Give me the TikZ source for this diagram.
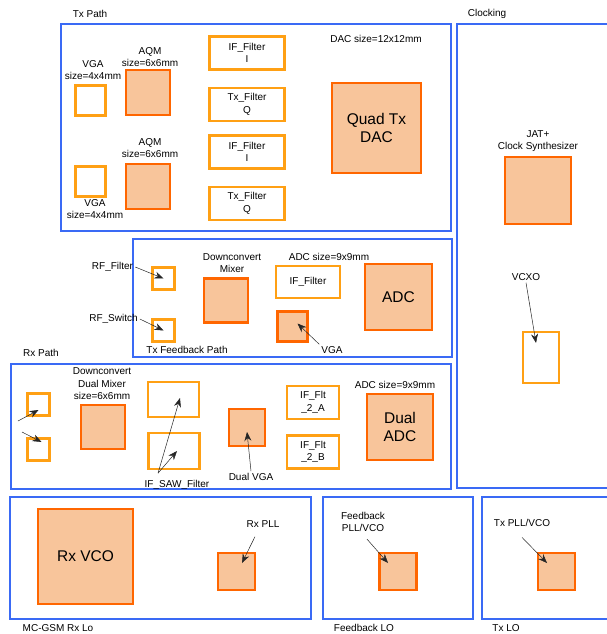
\documentclass[tikz,border=0pt]{standalone}
\usepackage{fontspec}
\setmainfont{Liberation Sans}
\usepackage{tikz}
\usetikzlibrary{arrows.meta, positioning}

\definecolor{frameblue}{RGB}{58,106,245}
\definecolor{chipline}{RGB}{255,102,0}
\definecolor{chipfill}{RGB}{248,197,155}
\definecolor{partline}{RGB}{255,160,20}

\begin{document}
\begin{tikzpicture}[
    x=1pt, y=-1pt,
    font=\fontsize{10}{12.5}\selectfont,
    frame/.style={draw=frameblue, line width=2.6pt, inner sep=0pt},
    chip/.style={draw=chipline, fill=chipfill, line width=2.2pt, inner sep=0pt, align=center},
    part/.style={draw=partline, fill=white, line width=2.2pt, inner sep=0pt, align=center},
    big/.style={font=\fontsize{15.5}{18}\selectfont},
    lbl/.style={align=center, inner sep=2pt},
    ar/.style={-{Stealth[length=9pt, width=7pt]}, line width=0.5pt, draw=black!85}
]
\useasboundingbox (0,0) rectangle (607,634);

% frames
\node[frame, minimum width=390, minimum height=207] (txframe) at (256,127.5) {};
\node[frame, minimum width=155, minimum height=464] (clkframe) at (534.5,256) {};
\node[frame, minimum width=319, minimum height=118] (fbframe) at (292.5,298) {};
\node[frame, minimum width=440, minimum height=125] (rxframe) at (231,426.5) {};
\node[frame, minimum width=301, minimum height=122] (mcframe) at (160.5,558) {};
\node[frame, minimum width=150, minimum height=122] (fbloframe) at (398,558) {};
\node[frame, minimum width=130, minimum height=122] (txloframe) at (547,558) {};

\node[lbl] (txpathl) at (90,14) {Tx Path};
\node[lbl] (clkl) at (487,14) {Clocking};
\node[lbl] (rxpathl) at (41,353) {Rx Path};
\node[lbl] (fbpathl) at (187,350) {Tx Feedback Path};
\node[lbl] (mcl) at (58,628) {MC-GSM Rx Lo};
\node[lbl] (fblol) at (364,628) {Feedback LO};
\node[lbl] (txlol) at (506,628) {Tx LO};

% Tx path
\node[part, minimum width=30, minimum height=30] (vga1) at (90.5,100.5) {};
\node[chip, minimum width=44, minimum height=45] (aqm1) at (148,92.5) {};
\node[part, minimum width=30, minimum height=30] (vga2) at (90.5,181.5) {};
\node[chip, minimum width=44, minimum height=45] (aqm2) at (148,186.5) {};
\node[part, minimum width=75, minimum height=33] (iff1) at (247,53) {IF\_Filter\\I};
\node[part, minimum width=75, minimum height=33] (txf1) at (247,104.5) {Tx\_Filter\\Q};
\node[part, minimum width=75, minimum height=33] (iff2) at (247,152) {IF\_Filter\\I};
\node[part, minimum width=75, minimum height=33] (txf2) at (247,203.5) {Tx\_Filter\\Q};
\node[chip, big, minimum width=89, minimum height=90] (dac) at (376.5,128) {Quad Tx\\DAC};
\node[lbl] (vga1l) at (93,70) {VGA\\size=4x4mm};
\node[lbl] (aqm1l) at (150,57) {AQM\\size=6x6mm};
\node[lbl] (vga2l) at (95,209) {VGA\\size=4x4mm};
\node[lbl] (aqm2l) at (150,148) {AQM\\size=6x6mm};
\node[lbl] (dacl) at (376,39) {DAC size=12x12mm};

% Clocking
\node[chip, minimum width=66, minimum height=67] (jat) at (538,190.5) {};
\node[part, minimum width=36, minimum height=51] (vcxo) at (541,357.5) {};
\node[lbl] (jatl) at (538,141) {JAT+\\Clock Synthesizer};
\node[lbl] (vcxol) at (526,277) {VCXO};
\draw[ar] (vcxol.south) -- ([xshift=-5pt, yshift=-12pt]vcxo.north);

% Tx feedback path
\node[part, minimum width=22, minimum height=22] (rff) at (163.5,278.5) {};
\node[part, minimum width=22, minimum height=22] (rfs) at (163.5,330.5) {};
\node[chip, minimum width=44, minimum height=44] (mix) at (226,300.5) {};
\node[part, minimum width=64, minimum height=32] (fiff) at (308,282) {IF\_Filter};
\node[chip, minimum width=30, minimum height=30] (fvga) at (292.5,326.5) {};
\node[chip, big, minimum width=67, minimum height=66] (adc) at (398.5,297) {ADC};
\node[lbl] (rffl) at (112.5,267) {RF\_Filter};
\node[lbl] (rfsl) at (113.5,319) {RF\_Switch};
\node[lbl] (mixl) at (232,263) {Downconvert\\Mixer};
\node[lbl] (fadcl) at (329,257) {ADC size=9x9mm};
\node[lbl] (fvgal) at (332,350) {VGA};
\draw[ar] (rffl.east) -- (rff.center);
\draw[ar] (rfsl.east) -- (rfs.center);
\draw[ar] (fvgal.north west) -- ([xshift=5pt, yshift=3pt]fvga.center);

% Rx path
\node[part, minimum width=22, minimum height=22] (sb1) at (38.5,404.5) {};
\node[part, minimum width=22, minimum height=22] (sb2) at (38.5,449.5) {};
\node[chip, minimum width=44, minimum height=44] (dmix) at (103,427) {};
\node[part, minimum width=51, minimum height=35] (saw1) at (173.5,399.5) {};
\node[part, minimum width=51, minimum height=36] (saw2) at (174,451) {};
\node[chip, minimum width=36, minimum height=37] (dvga) at (247,427.5) {};
\node[part, minimum width=52, minimum height=33] (flta) at (313,402.5) {IF\_Flt\\\_2\_A};
\node[part, minimum width=52, minimum height=33] (fltb) at (313,452) {IF\_Flt\\\_2\_B};
\node[chip, big, minimum width=66, minimum height=66] (dadc) at (400,427) {Dual\\ADC};
\node[lbl] (dmixl) at (102,384) {Downconvert\\Dual Mixer\\size=6x6mm};
\node[lbl] (sawl) at (177,485) {IF\_SAW\_Filter};
\node[lbl] (dvgal) at (251,477) {Dual VGA};
\node[lbl] (radcl) at (395,385) {ADC size=9x9mm};
\coordinate (in1) at (18,421);
\coordinate (in2) at (22,432);
\coordinate (sawfork) at ([xshift=-19pt, yshift=5pt]sawl.north);
\draw[ar] (in1) -- ([yshift=-5.5pt]sb1.center);
\draw[ar] (in2) -- ([xshift=3pt, yshift=7.5pt]sb2.center);
\draw[ar] (sawfork) -- ([xshift=6.5pt, yshift=1.5pt]saw1.center);
\draw[ar] (sawfork) -- ([xshift=3pt]saw2.center);
\draw[ar] (dvgal.north) -- ([yshift=-4.5pt]dvga.center);

% LO blocks
\node[chip, big, minimum width=95, minimum height=95] (rxvco) at (85.5,556.5) {Rx VCO};
\node[chip, minimum width=37, minimum height=37] (rxpll) at (236.5,571.5) {};
\node[chip, minimum width=37, minimum height=37] (fbpll) at (398,571.5) {};
\node[chip, minimum width=37, minimum height=37] (txpll) at (556.5,571.5) {};
\node[lbl] (rxplll) at (263,524) {Rx PLL};
\node[lbl] (fbplll) at (363,522) {Feedback\\PLL/VCO};
\node[lbl] (txplll) at (522,523) {Tx PLL/VCO};
\draw[ar] ([xshift=-8pt, yshift=-7pt]rxplll.south) -- ([xshift=5.5pt, yshift=8.5pt]rxpll.center);
\draw[ar] ([xshift=4pt, yshift=-5pt]fbplll.south) -- ([xshift=-10pt, yshift=8.5pt]fbpll.center);
\draw[ar] ([yshift=-8.5pt]txplll.south) -- ([xshift=-9.5pt, yshift=8.5pt]txpll.center);
\end{tikzpicture}
\end{document}
